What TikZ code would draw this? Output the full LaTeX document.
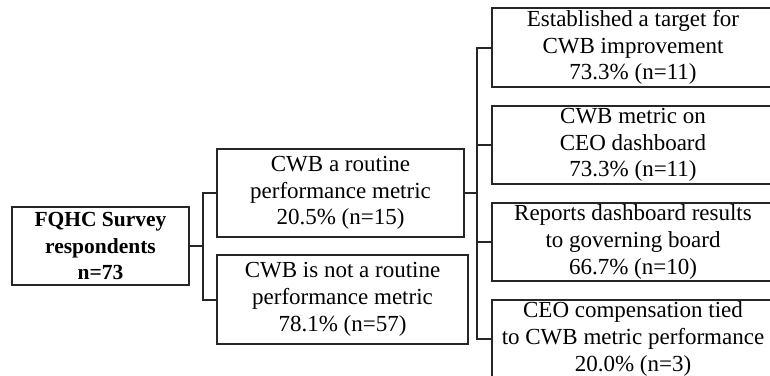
\documentclass[tikz,border=0pt]{standalone}
\usepackage{fontspec}
\setmainfont{Liberation Serif}
\usetikzlibrary{shadows}
\begin{document}
\begin{tikzpicture}[x=1pt,y=-1pt,
  box/.style={draw=black!85, fill=white, line width=1.2pt, align=center, inner sep=0pt,
    font=\fontsize{23}{26.7}\selectfont,
    drop shadow={shadow xshift=1.4pt, shadow yshift=-1.4pt, fill=gray!55, opacity=1}},
  conn/.style={draw=black!85, line width=2pt}]
\clip (0,0) rectangle (770,375);
\fill[white] (0,0) rectangle (770,375);
\node[box, font=\fontsize{21.5}{26.5}\selectfont\bfseries, minimum width=177, minimum height=78] (root) at (100.5,246)
  {FQHC Survey\\respondents\\n=73};
\node[box, minimum width=247, minimum height=88] (m1) at (340.5,193)
  {CWB a routine\\performance metric\\20.5\% (n=15)};
\node[box, minimum width=251, minimum height=89] (m2) at (342.5,299.5)
  {CWB is not a routine\\performance metric\\78.1\% (n=57)};
\node[box, minimum width=282, minimum height=79] (r1) at (633,47.5)
  {Established a target for\\CWB improvement\\73.3\% (n=11)};
\node[box, minimum width=282, minimum height=78] (r2) at (633,145)
  {CWB metric on\\CEO dashboard\\73.3\% (n=11)};
\node[box, minimum width=282, minimum height=78] (r3) at (633,242)
  {Reports dashboard results\\to governing board\\66.7\% (n=10)};
\node[box, minimum width=282, minimum height=78] (r4) at (633,339)
  {CEO compensation tied\\to CWB metric performance\\20.0\% (n=3)};
\coordinate (j1) at (203,246);
\coordinate (j2) at (477,193);
\draw[conn] (root.east) -- (j1);
\draw[conn] (m1.west) -| (j1) |- (m2.west);
\draw[conn] (m1.east) -- (j2);
\draw[conn] (r1.west) -| (j2) |- (r4.west);
\draw[conn] (r2.west) -- (r2.west -| j2);
\draw[conn] (r3.west) -- (r3.west -| j2);
\end{tikzpicture}
\end{document}
